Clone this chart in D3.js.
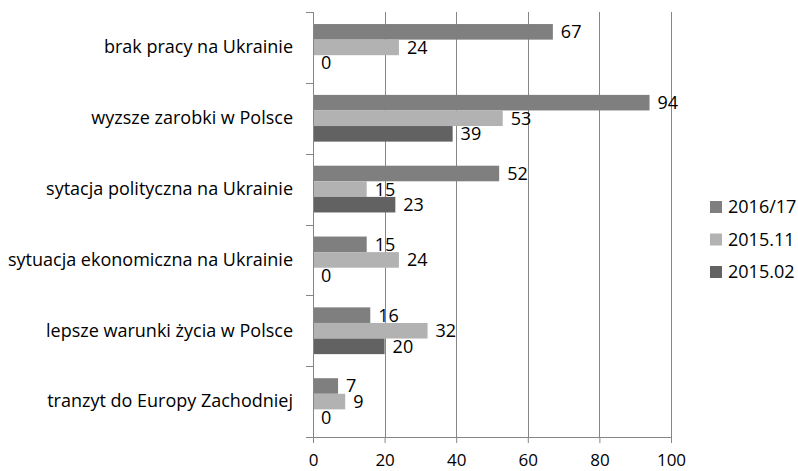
<!DOCTYPE html>
<html>
<head>
<meta charset="utf-8">
<script src="https://cdn.jsdelivr.net/npm/d3@7"></script>
<style>
  body { margin: 0; background: #fff; }
  svg text { font-family: "Open Sans", sans-serif; fill: #000; }
</style>
</head>
<body>
<svg width="798" height="471"></svg>
<script>
var width = 798;
var height = 471;

// categories, top to bottom
var categories = [
    "brak pracy na Ukrainie",
    "wyzsze zarobki w Polsce",
    "sytacja polityczna na Ukrainie",
    "sytuacja ekonomiczna na Ukrainie",
    "lepsze warunki życia w Polsce",
    "tranzyt do Europy Zachodniej"
];
var seriesNames = ["2016/17", "2015.11", "2015.02"];
var values2016 = [67, 94, 52, 15, 16, 7];
var values2015_11 = [24, 53, 15, 24, 32, 9];
var values2015_02 = [0, 39, 23, 0, 20, 0];
var xTicks = [0, 20, 40, 60, 80, 100];
var colors = ["#7f7f7f", "#b2b2b2", "#626262"];

var allSeries = [values2016, values2015_11, values2015_02];
var fontSize = "18px";

var svg = d3.select('svg');

var x = d3.scaleLinear().domain([0, 100]).range([313, 671]);
var y = d3.scaleBand().domain(categories).range([12, 437]).padding(0);
var bw = y.bandwidth();
var ySub = d3.scaleBand().domain(seriesNames).range([bw * 0.17, bw * 0.83]).padding(0);

// gridlines
svg.append("g")
    .selectAll("line")
    .data(xTicks.slice(1))
    .enter()
    .append("line")
    .attr("x1", function (d) { return Math.round(x(d)) + 0.5; })
    .attr("x2", function (d) { return Math.round(x(d)) + 0.5; })
    .attr("y1", 12)
    .attr("y2", 437)
    .attr("stroke", "#868686")
    .attr("stroke-width", 1);

// bars
var groups = svg.append("g").selectAll("g")
    .data(categories)
    .enter()
    .append("g")
    .attr("transform", function (d) { return "translate(0," + y(d) + ")"; });

groups.each(function (cat, ci) {
    var g = d3.select(this);
    seriesNames.forEach(function (s, si) {
        var v = allSeries[si][ci];
        g.append("rect")
            .attr("x", x(0))
            .attr("y", ySub(s))
            .attr("width", x(v) - x(0))
            .attr("height", ySub.bandwidth())
            .attr("fill", colors[si]);
        g.append("text")
            .attr("x", x(v) + 8)
            .attr("y", ySub(s) + ySub.bandwidth() / 2)
            .attr("dy", "0.36em")
            .attr("font-size", fontSize)
            .text(v);
    });
});

// x axis
var xAxis = d3.axisBottom(x).tickValues(xTicks).tickSize(6).tickFormat(d3.format("d"));
var xg = svg.append("g")
    .attr("transform", "translate(0,437)")
    .call(xAxis);
xg.select(".domain").attr("stroke", "#868686").attr("d", "M306.5,0.5H" + (x(100) + 0.5));
xg.selectAll(".tick line").attr("stroke", "#868686");
xg.selectAll(".tick text")
    .attr("y", 29)
    .attr("dy", "0")
    .attr("font-size", "17px")
    .attr("font-family", "Open Sans, sans-serif")
    .attr("fill", "#000");

// y axis
var yAxis = d3.axisLeft(y).tickSize(0).tickPadding(20);
var yg = svg.append("g")
    .attr("transform", "translate(313,0)")
    .call(yAxis);
yg.select(".domain").attr("stroke", "#868686").attr("d", "M0.5,12V437");
yg.selectAll(".tick text").attr("font-size", fontSize).attr("font-family", "Open Sans, sans-serif").attr("fill", "#000");

// category separator ticks
svg.append("g")
    .selectAll("line")
    .data(categories.map(function (c) { return y(c); }).concat([437]))
    .enter()
    .append("line")
    .attr("x1", 306)
    .attr("x2", 313)
    .attr("y1", function (d) { return Math.round(d) + 0.5; })
    .attr("y2", function (d) { return Math.round(d) + 0.5; })
    .attr("stroke", "#868686");

// legend
var legend = svg.append("g").selectAll("g")
    .data(seriesNames)
    .enter()
    .append("g")
    .attr("transform", function (d, i) { return "translate(710," + (201 + i * 32.5) + ")"; });
legend.append("rect")
    .attr("width", 12)
    .attr("height", 12)
    .attr("fill", function (d, i) { return colors[i]; });
legend.append("text")
    .attr("x", 18)
    .attr("y", 6)
    .attr("dy", "0.36em")
    .attr("font-size", fontSize)
    .text(function (d) { return d; });
</script>
</body>
</html>
